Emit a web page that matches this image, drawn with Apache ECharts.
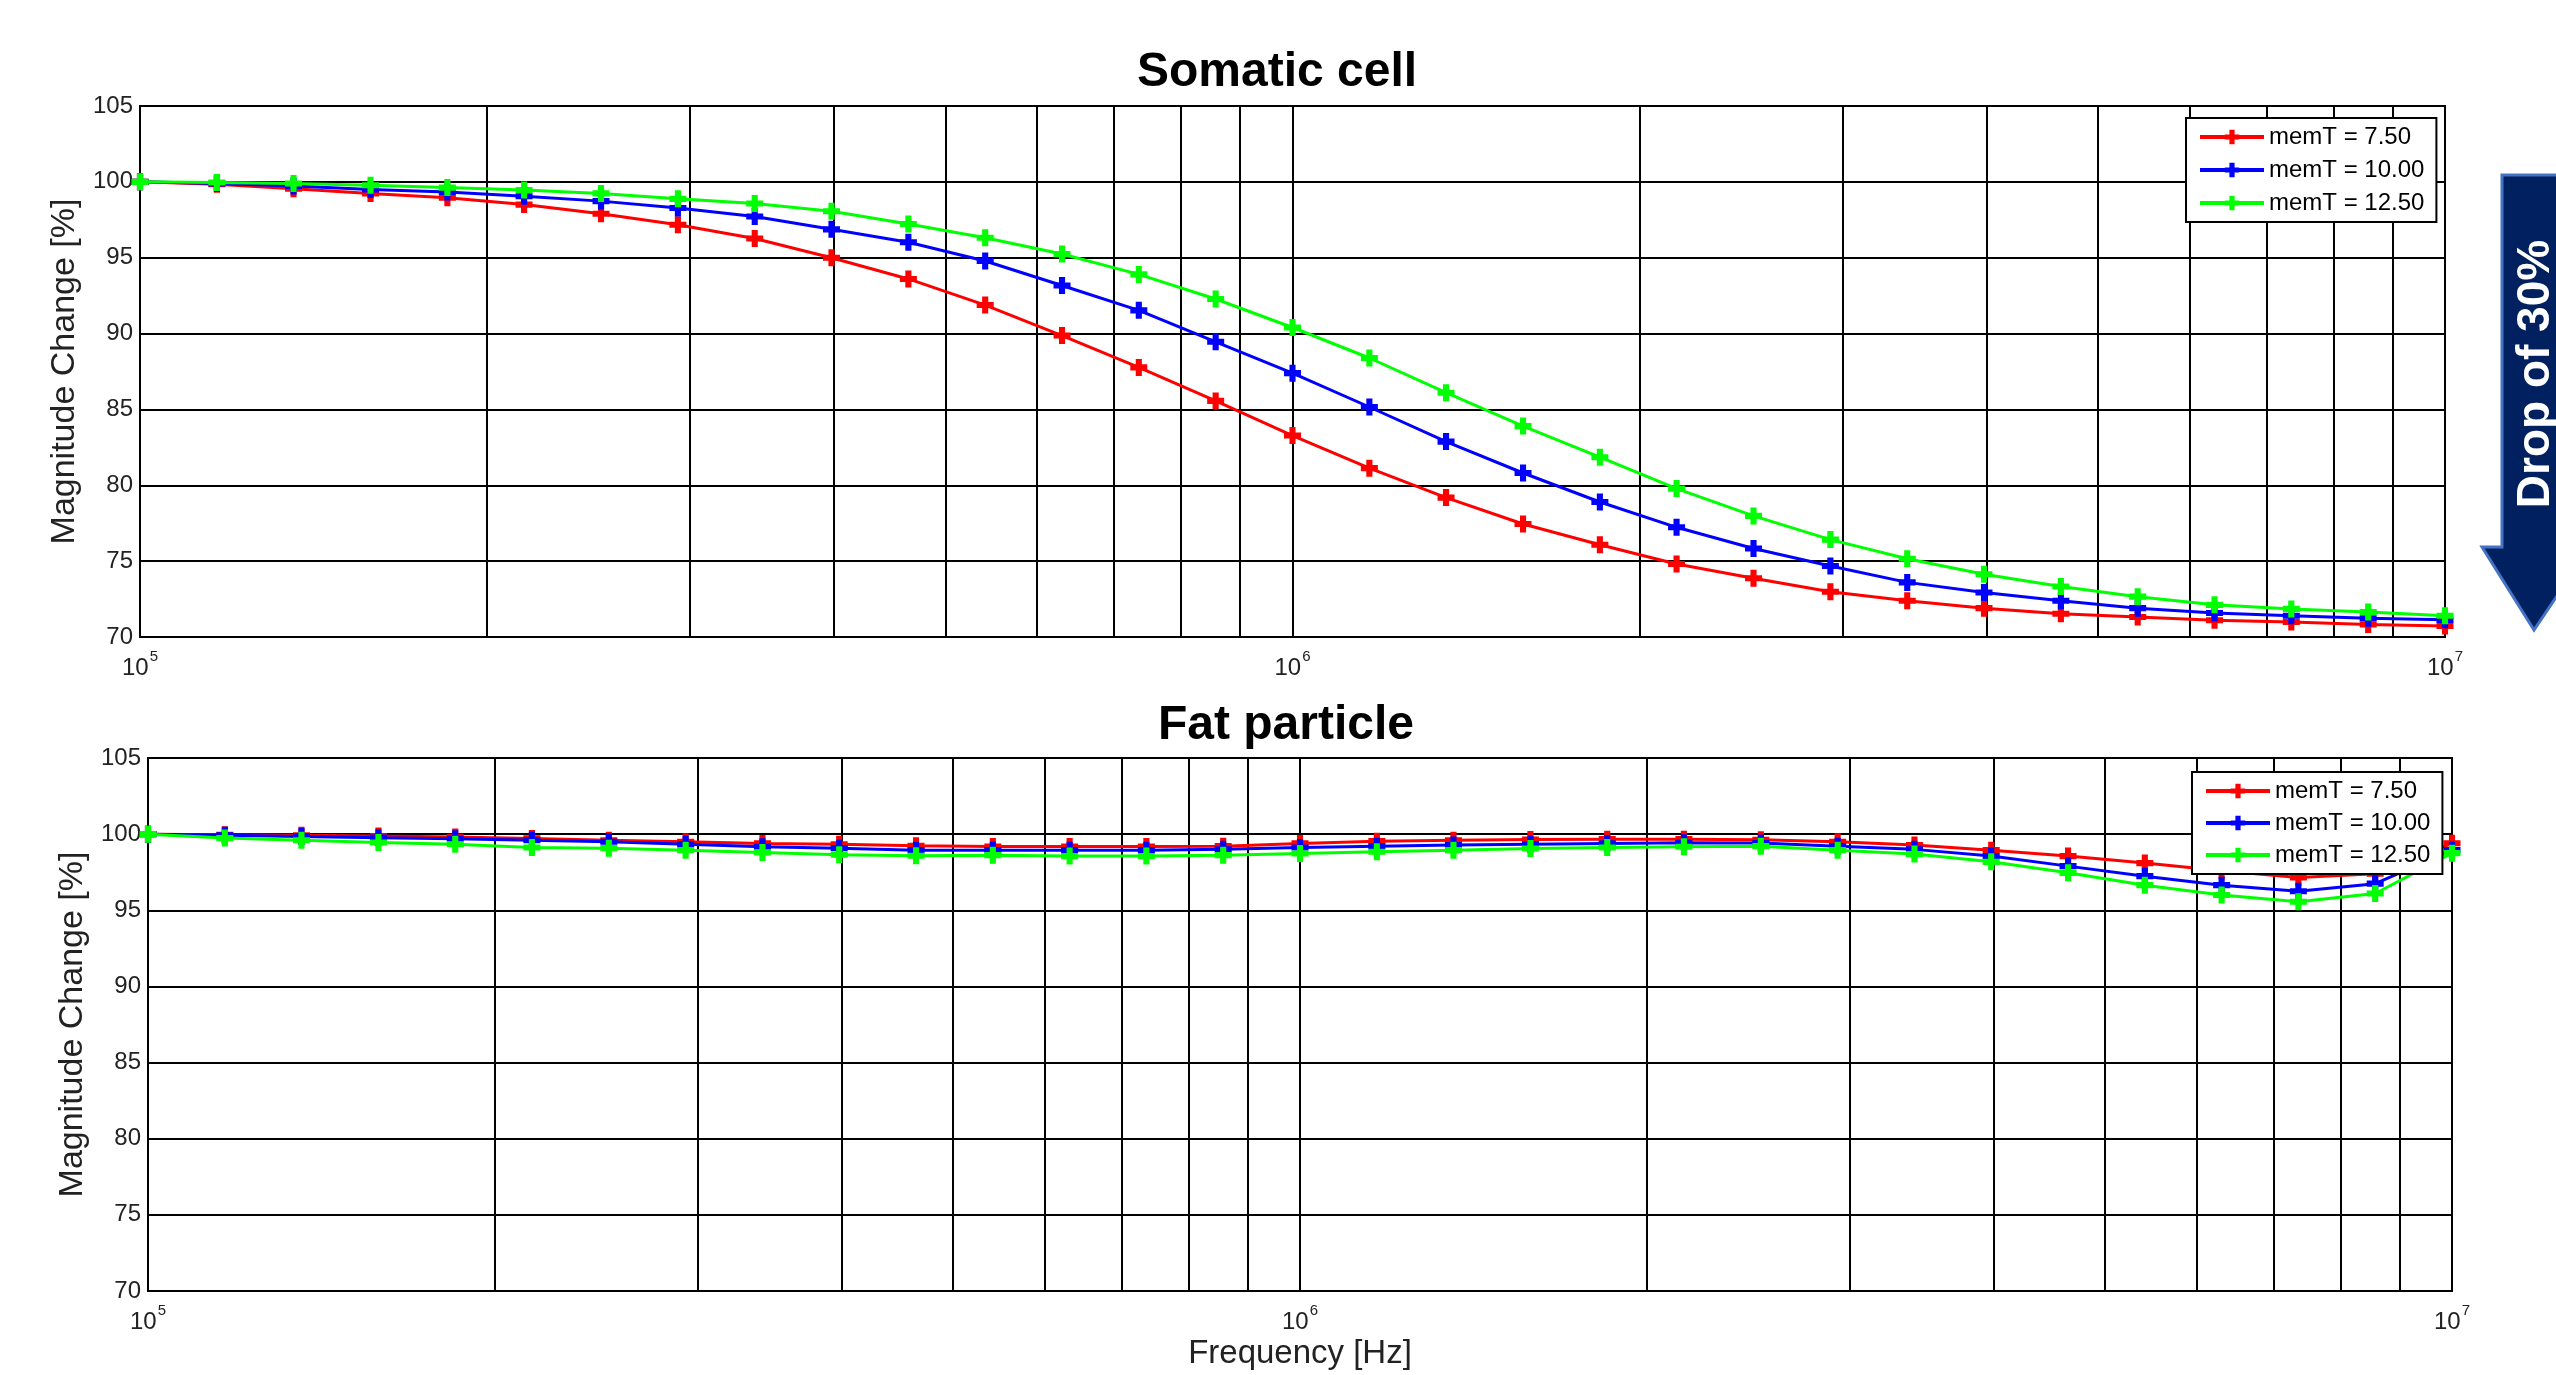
<!DOCTYPE html>
<html>
<head>
<meta charset="utf-8">
<title>Magnitude change vs frequency</title>
<script src="https://cdn.jsdelivr.net/npm/echarts@6.0.0/dist/echarts.min.js"></script>
<style>
  html, body { margin: 0; padding: 0; background: #fff; }
  #chart { width: 2556px; height: 1375px; }
</style>
</head>
<body>
<div id="chart"></div>
<script>
// sweep frequencies [Hz], 15 points per decade
var freqs = [
  1.000e5, 1.166e5, 1.359e5, 1.585e5, 1.848e5, 2.154e5, 2.512e5, 2.929e5, 3.415e5, 3.981e5,
  4.642e5, 5.412e5, 6.310e5, 7.356e5, 8.577e5, 1.000e6, 1.166e6, 1.359e6, 1.585e6, 1.848e6,
  2.154e6, 2.512e6, 2.929e6, 3.415e6, 3.981e6, 4.642e6, 5.412e6, 6.310e6, 7.356e6, 8.577e6,
  1.000e7
];
// minor log grid lines
var minorFreqs = [2e5, 3e5, 4e5, 5e5, 6e5, 7e5, 8e5, 9e5, 2e6, 3e6, 4e6, 5e6, 6e6, 7e6, 8e6, 9e6];

var seriesNames = ['memT = 7.50', 'memT = 10.00', 'memT = 12.50'];
var seriesColors = ['#ff0000', '#0000ff', '#00ff00'];

// Somatic cell
var somatic75 = [100, 99.84, 99.55, 99.24, 98.95, 98.5, 97.9, 97.17, 96.27, 95.0,
  93.6, 91.88, 89.87, 87.77, 85.56, 83.28, 81.13, 79.19, 77.45, 76.08,
  74.81, 73.87, 72.98, 72.39, 71.9, 71.53, 71.32, 71.1, 70.99, 70.83, 70.73];
var somatic100 = [100, 99.89, 99.73, 99.5, 99.33, 99.05, 98.73, 98.28, 97.72, 96.87,
  96.02, 94.78, 93.17, 91.53, 89.46, 87.39, 85.16, 82.88, 80.81, 78.9,
  77.23, 75.83, 74.68, 73.6, 72.93, 72.39, 71.9, 71.58, 71.4, 71.24, 71.13];
var somatic125 = [100, 99.96, 99.89, 99.78, 99.62, 99.46, 99.24, 98.88, 98.57, 98.06,
  97.22, 96.32, 95.24, 93.9, 92.28, 90.4, 88.39, 86.1, 83.9, 81.85,
  79.78, 77.98, 76.42, 75.16, 74.14, 73.33, 72.66, 72.12, 71.85, 71.64, 71.4];

// Fat particle
var fat75 = [100, 99.96, 99.93, 99.87, 99.82, 99.72, 99.6, 99.5, 99.39, 99.34,
  99.23, 99.19, 99.19, 99.19, 99.21, 99.39, 99.54, 99.6, 99.65, 99.67,
  99.67, 99.63, 99.5, 99.28, 98.95, 98.56, 98.1, 97.6, 97.15, 97.4, 99.4];
var fat100 = [100, 99.92, 99.85, 99.77, 99.7, 99.6, 99.5, 99.34, 99.17, 99.08,
  98.95, 98.95, 98.95, 98.95, 99.0, 99.12, 99.21, 99.28, 99.34, 99.39,
  99.43, 99.42, 99.21, 99.0, 98.56, 97.9, 97.24, 96.65, 96.25, 96.75, 98.95];
var fat125 = [100, 99.74, 99.6, 99.45, 99.34, 99.12, 99.08, 98.95, 98.8, 98.65,
  98.58, 98.62, 98.56, 98.56, 98.62, 98.73, 98.84, 98.95, 99.06, 99.12,
  99.17, 99.21, 98.95, 98.69, 98.18, 97.46, 96.65, 96.0, 95.56, 96.1, 98.75];

var titles = ['Somatic cell', 'Fat particle'];
var FONT = 'Liberation Sans, Arial, Helvetica, sans-serif';
var plusMarker = 'path://M3.2,0H6.8V3.2H10V6.8H6.8V10H3.2V6.8H0V3.2H3.2Z';

var myChart = echarts.init(document.getElementById('chart'));

function pairs(values) {
  return freqs.map(function (f, i) { return [f, values[i]]; });
}

function lineSeries(k, g, values) {
  return {
    name: seriesNames[k],
    type: 'line',
    xAxisIndex: g,
    yAxisIndex: g,
    data: pairs(values),
    symbol: plusMarker,
    symbolSize: 17,
    showAllSymbol: true,
    lineStyle: { width: 3, color: seriesColors[k] },
    itemStyle: { color: seriesColors[k] },
    z: 3 + k
  };
}

// empty series that only carries the minor vertical grid lines
function minorGrid(g) {
  return {
    type: 'line',
    xAxisIndex: g,
    yAxisIndex: g,
    data: [],
    silent: true,
    markLine: {
      silent: true,
      symbol: 'none',
      z: 1,
      label: { show: false },
      lineStyle: { color: '#000', width: 2, type: 'solid' },
      data: minorFreqs.map(function (f) { return { xAxis: f }; })
    }
  };
}

function xAxis(g) {
  return {
    type: 'log',
    logBase: 10,
    gridIndex: g,
    min: 1e5,
    max: 1e7,
    name: g === 1 ? 'Frequency [Hz]' : '',
    nameLocation: 'middle',
    nameGap: 46,
    nameTextStyle: { fontSize: 33, color: '#222', fontFamily: FONT },
    axisLine: { lineStyle: { color: '#000', width: 2 } },
    axisTick: { show: false },
    splitLine: { show: true, lineStyle: { color: '#000', width: 2 } },
    axisLabel: {
      margin: 12,
      showMinLabel: true,
      showMaxLabel: true,
      formatter: function (v) {
        return '{b|10}{s|' + Math.round(Math.log10(v)) + '}';
      },
      rich: {
        b: { fontSize: 24, color: '#222', fontFamily: FONT },
        s: { fontSize: 15, color: '#222', fontFamily: FONT, padding: [0, 0, 24, 1] }
      }
    }
  };
}

function yAxis(g) {
  return {
    type: 'value',
    gridIndex: g,
    min: 70,
    max: 105,
    interval: 5,
    name: 'Magnitude Change [%]',
    nameLocation: 'middle',
    nameGap: 58,
    nameTextStyle: { fontSize: 34, color: '#222', fontFamily: FONT },
    axisLine: { show: true, lineStyle: { color: '#000', width: 2 } },
    axisTick: { show: false },
    splitLine: { show: true, lineStyle: { color: '#000', width: 2 } },
    axisLabel: { margin: 7, fontSize: 24, color: '#222', fontFamily: FONT }
  };
}

function legend(left, top, gap) {
  return {
    orient: 'vertical',
    left: left,
    top: top,
    data: seriesNames,
    selectedMode: false,
    itemWidth: 64,
    itemHeight: 18,
    itemGap: gap,
    padding: [7, 12, 7, 12],
    backgroundColor: '#fff',
    borderColor: '#000',
    borderWidth: 2,
    borderRadius: 0,
    lineStyle: { width: 4 },
    textStyle: { fontSize: 24, color: '#000', fontFamily: FONT },
    z: 10
  };
}

var option = {
  animation: false,
  backgroundColor: '#fff',
  grid: [
    { left: 140, right: 111, top: 106, height: 531, show: true, borderColor: '#000', borderWidth: 2, backgroundColor: 'transparent' },
    { left: 148, right: 104, top: 758, height: 533, show: true, borderColor: '#000', borderWidth: 2, backgroundColor: 'transparent' }
  ],
  xAxis: [xAxis(0), xAxis(1)],
  yAxis: [yAxis(0), yAxis(1)],
  legend: [legend(2186, 118, 9), legend(2192, 772, 8)],
  series: [
    minorGrid(0),
    lineSeries(0, 0, somatic75),
    lineSeries(1, 0, somatic100),
    lineSeries(2, 0, somatic125),
    minorGrid(1),
    lineSeries(0, 1, fat75),
    lineSeries(1, 1, fat100),
    lineSeries(2, 1, fat125)
  ],
  graphic: [
    {
      type: 'text', x: 1277, y: 73,
      style: { text: titles[0], fill: '#000', font: 'bold 48px ' + FONT, textAlign: 'center', textVerticalAlign: 'middle' }
    },
    {
      type: 'text', x: 1286, y: 726,
      style: { text: titles[1], fill: '#000', font: 'bold 48px ' + FONT, textAlign: 'center', textVerticalAlign: 'middle' }
    },
    {
      // "Drop of 30%" arrow, cut by the right edge
      type: 'polygon',
      shape: { points: [[2502, 175], [2570, 175], [2570, 547], [2590, 547], [2534, 630], [2482, 547], [2502, 547]] },
      style: { fill: '#002060', stroke: '#4472c4', lineWidth: 3 },
      z: 20
    },
    {
      type: 'text', x: 2536, y: 374, rotation: Math.PI / 2,
      style: { text: 'Drop of 30%', fill: '#fff', font: 'bold 46px ' + FONT, textAlign: 'center', textVerticalAlign: 'middle' },
      z: 21
    }
  ]
};

myChart.setOption(option);

window.onresize = function () {
  myChart.resize();
};
</script>
</body>
</html>
